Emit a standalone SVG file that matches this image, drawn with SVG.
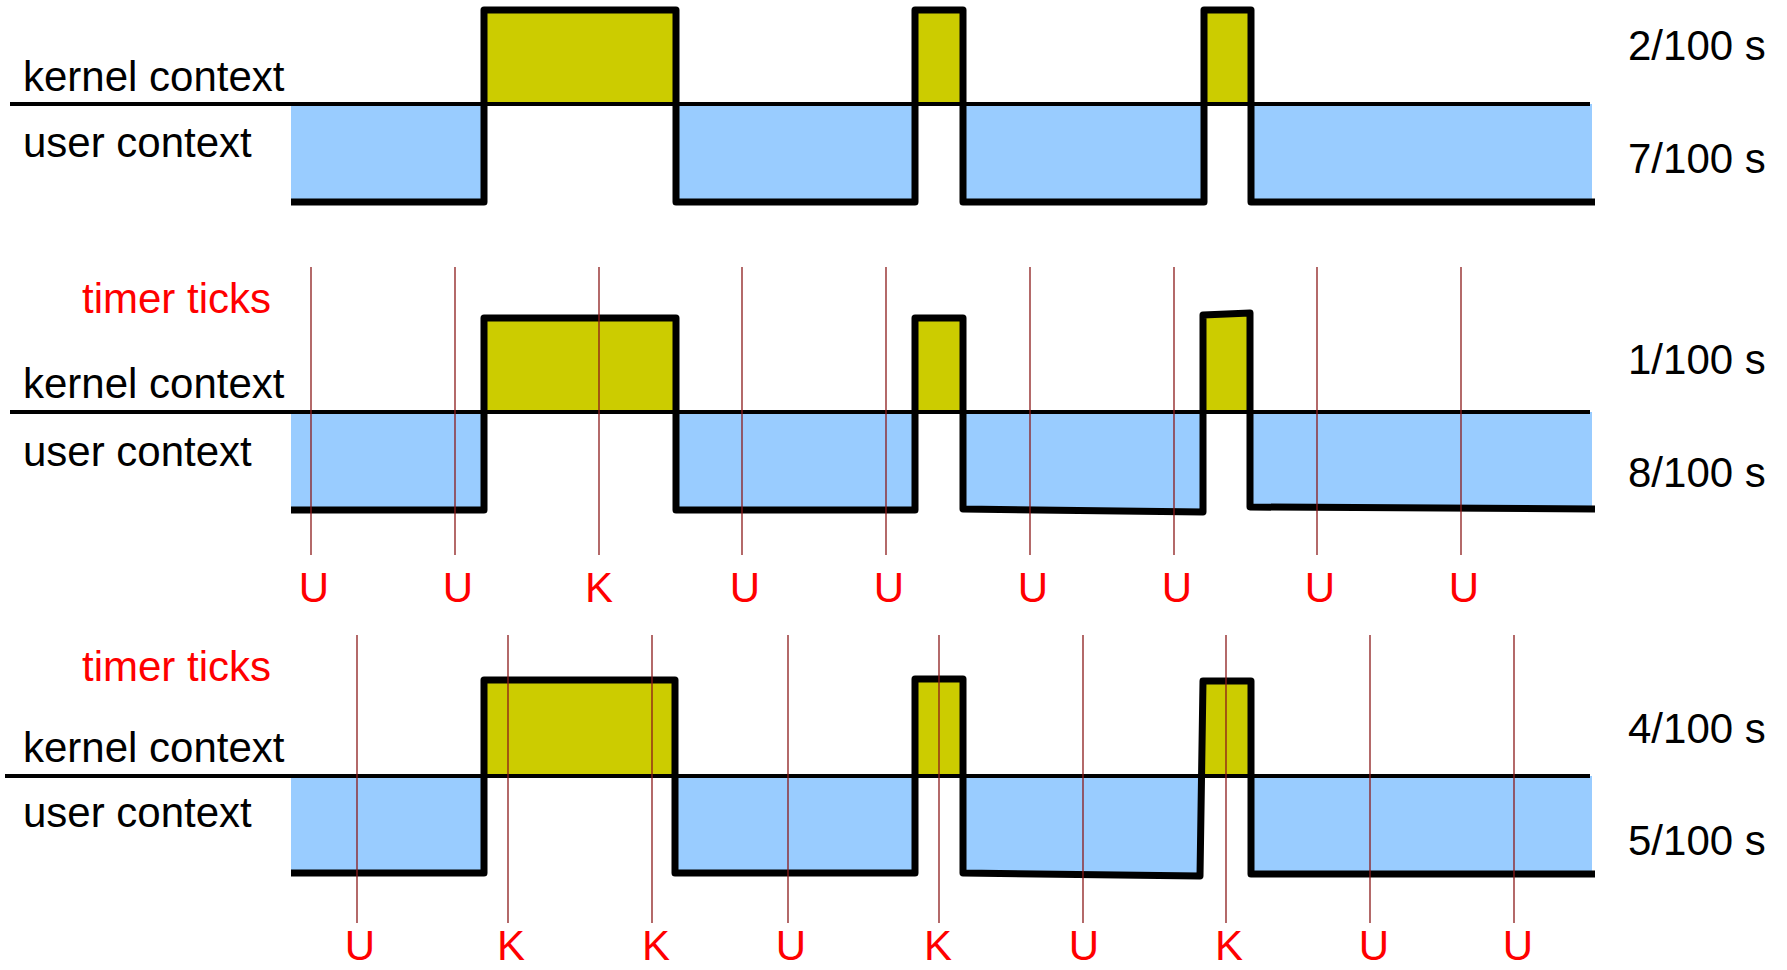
<svg xmlns="http://www.w3.org/2000/svg" width="1787" height="970" viewBox="0 0 1787 970">
<style>
text{font-family:"Liberation Sans",Arial,sans-serif;font-size:42px;fill:#000}
.red{fill:#ff0000}
.lbl{fill:#ff0000;text-anchor:middle}
.blue{fill:#99ccff;stroke:none}
.yel{fill:#cccc00;stroke:none}
.base{stroke:#000;stroke-width:4;fill:none}
.wave{stroke:#000;stroke-width:7;fill:none;stroke-linejoin:round;stroke-linecap:butt}
.tick{stroke:#8b1a1a;stroke-width:1.3}
</style>
<rect width="1787" height="970" fill="#fff"/>

<g id="panel1">
  <rect class="blue" x="291" y="104" width="193" height="98"/>
  <rect class="blue" x="676" y="104" width="239" height="98"/>
  <rect class="blue" x="963" y="104" width="241" height="98"/>
  <rect class="blue" x="1251" y="104" width="341" height="98"/>
  <rect class="yel" x="484" y="10" width="192" height="94"/>
  <rect class="yel" x="915" y="10" width="48" height="94"/>
  <rect class="yel" x="1204" y="10" width="47" height="94"/>
  <line class="base" x1="10" y1="104" x2="1590" y2="104"/>
  <path class="wave" d="M291,202 H484 V10 H676 V202 H915 V10 H963 V202 H1204 V10 H1251 V202 H1595"/>
  <text x="23" y="91">kernel context</text>
  <text x="23" y="157">user context</text>
  <text x="1628" y="60">2/100 s</text>
  <text x="1628" y="173">7/100 s</text>
</g>

<g id="panel2">
  <rect class="blue" x="291" y="412" width="193" height="98"/>
  <rect class="blue" x="676" y="412" width="239" height="98"/>
  <polygon class="blue" points="963,412 1203,412 1203,512 963,509"/>
  <polygon class="blue" points="1250,412 1592,412 1592,509 1250,507"/>
  <rect class="yel" x="484" y="318" width="192" height="94"/>
  <rect class="yel" x="915" y="318" width="48" height="94"/>
  <polygon class="yel" points="1203,315 1250,313 1250,412 1203,412"/>
  <line class="base" x1="10" y1="412" x2="1590" y2="412"/>
  <path class="wave" d="M291,510 H484 V318 H676 V510 H915 V318 H963 V509 L1203,512 V315 L1250,313 V507 L1595,509"/>
  <text class="red" x="82" y="313">timer ticks</text>
  <text x="23" y="398">kernel context</text>
  <text x="23" y="466">user context</text>
  <text x="1628" y="374">1/100 s</text>
  <text x="1628" y="487">8/100 s</text>
</g>

<g id="panel3">
  <rect class="blue" x="291" y="776" width="193" height="97"/>
  <rect class="blue" x="675" y="776" width="240" height="97"/>
  <polygon class="blue" points="963,776 1202,776 1200,876 963,873"/>
  <rect class="blue" x="1251" y="776" width="341" height="98"/>
  <rect class="yel" x="484" y="680" width="191" height="96"/>
  <rect class="yel" x="915" y="679" width="48" height="97"/>
  <polygon class="yel" points="1203,681 1251,681 1251,776 1201.5,776"/>
  <line class="base" x1="5" y1="776" x2="1590" y2="776"/>
  <path class="wave" d="M291,873 H484 V680 H675 V873 H915 V679 H963 V873 L1200,876 L1203,681 H1251 V874 H1595"/>
  <text class="red" x="82" y="681">timer ticks</text>
  <text x="23" y="762">kernel context</text>
  <text x="23" y="827">user context</text>
  <text x="1628" y="743">4/100 s</text>
  <text x="1628" y="855">5/100 s</text>
</g>

<g id="ticks2">
  <line class="tick" x1="311" y1="267" x2="311" y2="555"/>
  <line class="tick" x1="455" y1="267" x2="455" y2="555"/>
  <line class="tick" x1="599" y1="267" x2="599" y2="555"/>
  <line class="tick" x1="742" y1="267" x2="742" y2="555"/>
  <line class="tick" x1="886" y1="267" x2="886" y2="555"/>
  <line class="tick" x1="1030" y1="267" x2="1030" y2="555"/>
  <line class="tick" x1="1174" y1="267" x2="1174" y2="555"/>
  <line class="tick" x1="1317" y1="267" x2="1317" y2="555"/>
  <line class="tick" x1="1461" y1="267" x2="1461" y2="555"/>
  <text class="lbl" x="314" y="602">U</text>
  <text class="lbl" x="458" y="602">U</text>
  <text class="lbl" x="599" y="602">K</text>
  <text class="lbl" x="745" y="602">U</text>
  <text class="lbl" x="889" y="602">U</text>
  <text class="lbl" x="1033" y="602">U</text>
  <text class="lbl" x="1177" y="602">U</text>
  <text class="lbl" x="1320" y="602">U</text>
  <text class="lbl" x="1464" y="602">U</text>
</g>

<g id="ticks3">
  <line class="tick" x1="357" y1="635" x2="357" y2="923"/>
  <line class="tick" x1="508" y1="635" x2="508" y2="923"/>
  <line class="tick" x1="652" y1="635" x2="652" y2="923"/>
  <line class="tick" x1="788" y1="635" x2="788" y2="923"/>
  <line class="tick" x1="939" y1="635" x2="939" y2="923"/>
  <line class="tick" x1="1083" y1="635" x2="1083" y2="923"/>
  <line class="tick" x1="1226" y1="635" x2="1226" y2="923"/>
  <line class="tick" x1="1370" y1="635" x2="1370" y2="923"/>
  <line class="tick" x1="1514" y1="635" x2="1514" y2="923"/>
  <text class="lbl" x="360" y="960">U</text>
  <text class="lbl" x="511" y="960">K</text>
  <text class="lbl" x="656" y="960">K</text>
  <text class="lbl" x="791" y="960">U</text>
  <text class="lbl" x="938" y="960">K</text>
  <text class="lbl" x="1084" y="960">U</text>
  <text class="lbl" x="1229" y="960">K</text>
  <text class="lbl" x="1374" y="960">U</text>
  <text class="lbl" x="1518" y="960">U</text>
</g>
</svg>
